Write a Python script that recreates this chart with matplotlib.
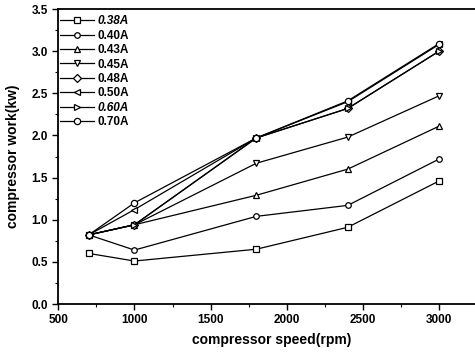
import numpy as np
import matplotlib
matplotlib.use('Agg')
import matplotlib.pyplot as plt
from matplotlib.ticker import MultipleLocator

plt.rcParams['font.family'] = ['Liberation Sans', 'DejaVu Sans']
plt.rcParams['font.weight'] = 'bold'

speed = [700, 1000, 1800, 2400, 3000]
labels = ['0.38A', '0.40A', '0.43A', '0.45A', '0.48A', '0.50A', '0.60A', '0.70A']
w038 = [0.60, 0.51, 0.65, 0.91, 1.46]
w040 = [0.82, 0.64, 1.04, 1.17, 1.72]
w043 = [0.82, 0.94, 1.29, 1.60, 2.11]
w045 = [0.82, 0.94, 1.67, 1.98, 2.47]
w048 = [0.82, 0.94, 1.97, 2.32, 3.00]
w050 = [0.82, 1.12, 1.97, 2.40, 3.08]
w060 = [0.82, 0.94, 1.97, 2.32, 3.00]
w070 = [0.82, 1.20, 1.97, 2.41, 3.09]
series = [w038, w040, w043, w045, w048, w050, w060, w070]
markers = ['s', 'o', '^', 'v', 'D', '<', '>', 'o']
msizes = [4, 4, 4.5, 4.5, 4, 4, 4, 4.5]

fig = plt.figure(figsize=(4.75, 3.53), dpi=100)
ax = fig.add_axes([0.1227, 0.1388, 0.898, 0.8357])

for y, m, ms, lab in zip(series, markers, msizes, labels):
    ax.plot(speed, y, color='black', lw=0.9, marker=m, ms=ms,
            mfc='white', mec='black', mew=0.9, label=lab)

ax.set_xlim(500, 3300)
ax.set_ylim(0, 3.5)
ax.xaxis.set_major_locator(MultipleLocator(500))
ax.xaxis.set_minor_locator(MultipleLocator(250))
ax.yaxis.set_major_locator(MultipleLocator(0.5))
ax.yaxis.set_minor_locator(MultipleLocator(0.25))
ax.tick_params(which='both', direction='out', labelsize=8.5, top=False, right=False)
ax.tick_params(which='major', length=4, width=1)
ax.tick_params(which='minor', length=2.5, width=0.8)
for s in ax.spines.values():
    s.set_linewidth(1.3)
ax.set_xlabel('compressor speed(rpm)', fontsize=10, fontweight='bold', labelpad=5)
ax.set_ylabel('compressor work(kw)', fontsize=10, fontweight='bold', labelpad=8)

leg = ax.legend(loc='upper left', frameon=False, fontsize=8.5, handlelength=2.9,
                handletextpad=0.3, labelspacing=0.2, borderaxespad=0.0,
                borderpad=0.3, bbox_to_anchor=(-0.005, 0.99))
for i, t in enumerate(leg.get_texts()):
    if labels[i] in ('0.38A', '0.60A'):
        t.set_style('italic')

fig.savefig('out.png', dpi=100)
